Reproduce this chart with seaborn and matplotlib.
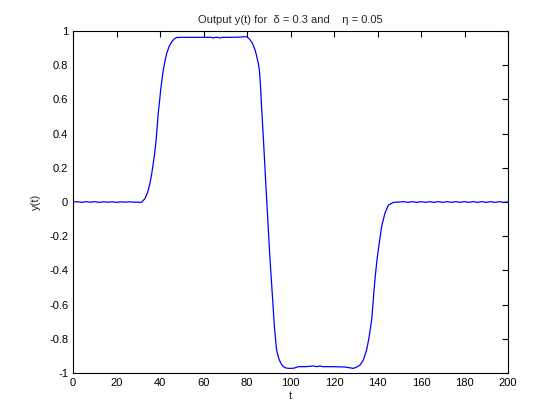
import numpy as np
import pandas as pd
import matplotlib
matplotlib.use("Agg")
import matplotlib.pyplot as plt
import seaborn as sns

# time samples and output values
t = [0, 2, 4, 6, 8, 10, 12, 14, 16, 18, 20, 22, 24, 26, 28, 30, 31.5,
     33.1, 34.3, 35.4, 36.2, 36.9, 37.6, 38.2, 38.7, 39.2, 39.8, 40.3, 40.9,
     41.5, 42.3, 43.1, 44.2, 45.4, 46.5, 47.7, 50, 55, 60, 63.5, 64.5, 65.5,
     66.5, 67.5, 68.5, 72, 76, 79.8, 81, 82.2, 82.9, 83.7, 84.5, 85.2, 85.7,
     86.2, 86.7, 87.5, 88.5, 89.5, 90.5, 91.8, 92.6, 93.6, 94.5, 95.2, 96.0,
     96.7, 98, 99.5, 101.5, 103.6, 107, 110.5, 112, 113.6, 115, 120, 125,
     128.9, 130.5, 132, 133.5, 135, 136.0, 136.6, 137.3, 137.9, 138.4, 139.0,
     139.6, 140.2, 140.8, 141.9, 143.4, 145, 147.3, 150, 152, 154, 156, 158,
     160, 162, 164, 166, 168, 170, 172, 174, 176, 178, 180, 182, 184, 186,
     188, 190, 192, 194, 196, 198, 200]
y = [0.0, 0.002, -0.002, 0.002, -0.001, 0.002, -0.002, 0.001, -0.001, 0.001,
     -0.002, 0.001, -0.001, 0.001, -0.001, -0.001, -0.002,
     0.02, 0.055, 0.11, 0.165, 0.226, 0.29, 0.36, 0.44, 0.52, 0.59, 0.655,
     0.715, 0.77, 0.825, 0.87, 0.91, 0.937, 0.953, 0.962, 0.963, 0.963, 0.963,
     0.963, 0.959, 0.963, 0.963, 0.959, 0.963, 0.963, 0.964, 0.967, 0.955,
     0.935, 0.915, 0.89, 0.85, 0.81, 0.77, 0.68, 0.557, 0.38, 0.14, -0.09,
     -0.32, -0.573, -0.73, -0.865, -0.91, -0.934, -0.952, -0.963, -0.971,
     -0.973, -0.972, -0.963, -0.963, -0.959, -0.963, -0.959, -0.963, -0.963,
     -0.965, -0.973, -0.965, -0.953, -0.924, -0.865, -0.80, -0.75, -0.69,
     -0.60, -0.515, -0.43, -0.358, -0.295, -0.24, -0.144, -0.066, -0.018,
     -0.002, 0.0, 0.002, -0.002, 0.002, -0.002, 0.002, -0.002, 0.002, -0.002,
     0.002, -0.002, 0.002, -0.002, 0.002, -0.002, 0.002, -0.002, 0.002,
     -0.002, 0.002, -0.002, 0.002, -0.002, 0.002, -0.002, 0.0]

xticks = [0, 20, 40, 60, 80, 100, 120, 140, 160, 180, 200]
yticks = [-1, -0.8, -0.6, -0.4, -0.2, 0, 0.2, 0.4, 0.6, 0.8, 1]
yticklabels = ["-1", "-0.8", "-0.6", "-0.4", "-0.2", "0", "0.2", "0.4", "0.6", "0.8", "1"]

sns.set_style("white")
plt.rcParams["font.family"] = ["Liberation Sans", "DejaVu Sans"]

df = pd.DataFrame({"t": t, "y": y})

fig = plt.figure(figsize=(5.6, 4.2), dpi=100)
ax = fig.add_axes([73 / 560, 47 / 420, 435 / 560, 342 / 420])
sns.lineplot(data=df, x="t", y="y", sort=False, estimator=None,
             color=(0, 0, 1), linewidth=0.9, ax=ax)

ax.set_xlim(0, 200)
ax.set_ylim(-1, 1)
ax.set_xticks(xticks)
ax.set_xticklabels([str(v) for v in xticks])
ax.set_yticks(yticks)
ax.set_yticklabels(yticklabels)
ax.tick_params(direction="in", length=4, width=0.8, labelsize=8,
               top=True, right=True, colors="black")
for s in ax.spines.values():
    s.set_color("black")
    s.set_linewidth(0.8)
ax.set_xlabel("t", fontsize=8, labelpad=2)
ax.set_ylabel("y(t)", fontsize=8, labelpad=6)
ax.set_title("Output y(t) for  \u03b4 = 0.3 and    \u03b7 = 0.05", fontsize=8, pad=6)

fig.savefig("out.png", dpi=100)
